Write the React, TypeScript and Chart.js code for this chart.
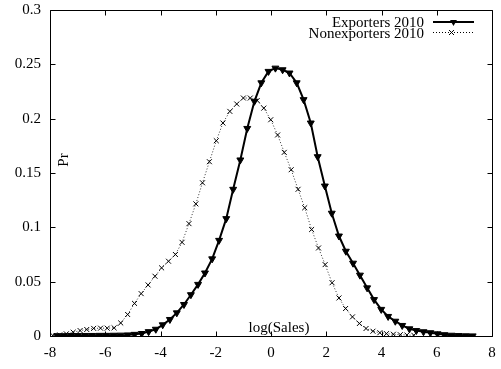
import React, { useEffect, useRef } from 'react';
import { Chart, registerables } from 'chart.js';

Chart.register(...registerables);

// ---------- data ----------
const exportersX = [
  -7.74, -7.49, -7.23, -6.98, -6.72, -6.47, -6.21, -5.96, -5.70, -5.45,
  -5.19, -4.94, -4.68, -4.43, -4.17, -3.92, -3.66, -3.41, -3.15, -2.90,
  -2.64, -2.39, -2.13, -1.88, -1.62, -1.37, -1.11, -0.86, -0.60, -0.35,
  -0.09, 0.16, 0.42, 0.67, 0.93, 1.18, 1.44, 1.69, 1.95, 2.20,
  2.46, 2.71, 2.97, 3.22, 3.48, 3.73, 3.99, 4.24, 4.50, 4.75,
  5.01, 5.26, 5.52, 5.77, 6.03, 6.28, 6.54, 6.79, 7.05, 7.30,
];
const exportersY = [
  0.0003, 0.0003, 0.0004, 0.0004, 0.0005, 0.0005, 0.0006, 0.0006, 0.0007, 0.0008,
  0.0010, 0.0015, 0.0023, 0.0040, 0.0062, 0.0103, 0.0152, 0.0213, 0.0290, 0.0380,
  0.0475, 0.0580, 0.0710, 0.0880, 0.1080, 0.1350, 0.1620, 0.1910, 0.2160, 0.2330,
  0.2435, 0.2465, 0.2450, 0.2420, 0.2330, 0.2175, 0.1960, 0.1650, 0.1380, 0.1130,
  0.0920, 0.0780, 0.0670, 0.0560, 0.0443, 0.0335, 0.0245, 0.0180, 0.0136, 0.0097,
  0.0066, 0.0050, 0.0039, 0.0030, 0.0020, 0.0012, 0.0007, 0.0004, 0.0002, 0.0001,
];
const nonexportersX = [
  -7.90, -7.65, -7.41, -7.16, -6.91, -6.67, -6.42, -6.17, -5.93, -5.68,
  -5.44, -5.19, -4.94, -4.70, -4.45, -4.20, -3.96, -3.71, -3.46, -3.22,
  -2.97, -2.72, -2.48, -2.23, -1.98, -1.74, -1.49, -1.24, -1.00, -0.75,
  -0.50, -0.26, -0.01, 0.24, 0.48, 0.73, 0.98, 1.22, 1.47, 1.72,
  1.96, 2.21, 2.46, 2.70, 2.95, 3.20, 3.44, 3.69, 3.94, 4.18,
  4.43, 4.68, 4.92, 5.17,
];
const nonexportersY = [
  0.0005, 0.0010, 0.0020, 0.0035, 0.0050, 0.0060, 0.0070, 0.0072, 0.0072, 0.0075,
  0.0120, 0.0198, 0.0300, 0.0390, 0.0470, 0.0550, 0.0627, 0.0688, 0.0750, 0.0862,
  0.1034, 0.1216, 0.1410, 0.1604, 0.1797, 0.1960, 0.2067, 0.2135, 0.2190, 0.2190,
  0.2167, 0.2097, 0.1990, 0.1850, 0.1690, 0.1530, 0.1350, 0.1180, 0.0980, 0.0810,
  0.0657, 0.0490, 0.0350, 0.0253, 0.0176, 0.0115, 0.0069, 0.0044, 0.0030, 0.0022,
  0.0016, 0.0012, 0.0009, 0.0007,
];
const xTicks = [-8, -6, -4, -2, 0, 2, 4, 6, 8];
const yTicks = [0, 0.05, 0.1, 0.15, 0.2, 0.25, 0.3];
const seriesLabels = ['Exporters 2010', 'Nonexporters 2010'];
const xLabel = 'log(Sales)';
const yLabel = 'Pr';

const FONT_FAMILY = '"Liberation Serif", "Times New Roman", serif';
const FONT_SIZE = 15;
const FONT = `${FONT_SIZE}px ${FONT_FAMILY}`;

// target plot frame (pixels)
const AREA = { left: 50, right: 492, top: 10, bottom: 336 };

const decorPlugin = {
  id: 'decor',
  afterDatasetsDraw(chart: any) {
    const { ctx, chartArea, scales } = chart;
    const xs = scales.x;
    const ys = scales.y;
    const L = Math.round(chartArea.left) + 0.5;
    const R = Math.round(chartArea.right) + 0.5;
    const T = Math.round(chartArea.top) + 0.5;
    const B = Math.round(chartArea.bottom) + 0.5;
    ctx.save();
    ctx.strokeStyle = '#000';
    ctx.lineWidth = 1;
    ctx.setLineDash([]);
    ctx.beginPath();
    ctx.rect(L, T, R - L, B - T);
    ctx.stroke();
    const tl = 5;
    ctx.beginPath();
    xTicks.forEach((v) => {
      const px = Math.round(xs.getPixelForValue(v)) + 0.5;
      ctx.moveTo(px, B);
      ctx.lineTo(px, B - tl);
      ctx.moveTo(px, T);
      ctx.lineTo(px, T + tl);
    });
    yTicks.forEach((v) => {
      const py = Math.round(ys.getPixelForValue(v)) + 0.5;
      ctx.moveTo(L, py);
      ctx.lineTo(L + tl, py);
      ctx.moveTo(R, py);
      ctx.lineTo(R - tl, py);
    });
    ctx.stroke();

    // axis labels drawn inside the plot like the reference
    ctx.fillStyle = '#000';
    ctx.font = FONT;
    ctx.textAlign = 'center';
    ctx.textBaseline = 'alphabetic';
    ctx.fillText(xLabel, 279, 332);
    ctx.save();
    ctx.translate(68, 160);
    ctx.rotate(-Math.PI / 2);
    ctx.fillText(yLabel, 0, 0);
    ctx.restore();

    // legend
    ctx.textAlign = 'right';
    ctx.fillText(seriesLabels[0], 424, 27);
    ctx.fillText(seriesLabels[1], 424, 38);

    // sample 1: solid thick line with down triangle
    ctx.lineWidth = 2;
    ctx.beginPath();
    ctx.moveTo(433, 22);
    ctx.lineTo(474, 22);
    ctx.stroke();
    const r = 4;
    ctx.beginPath();
    ctx.moveTo(453.5, 22 + r);
    ctx.lineTo(453.5 - r * 0.866, 22 - r * 0.5);
    ctx.lineTo(453.5 + r * 0.866, 22 - r * 0.5);
    ctx.closePath();
    ctx.fill();

    // sample 2: dotted line with x
    ctx.lineWidth = 1;
    ctx.setLineDash([1, 2]);
    ctx.beginPath();
    ctx.moveTo(433, 32.5);
    ctx.lineTo(474, 32.5);
    ctx.stroke();
    ctx.setLineDash([]);
    ctx.beginPath();
    ctx.moveTo(451.5 - 2.5, 32.5 - 2.5);
    ctx.lineTo(451.5 + 2.5, 32.5 + 2.5);
    ctx.moveTo(451.5 - 2.5, 32.5 + 2.5);
    ctx.lineTo(451.5 + 2.5, 32.5 - 2.5);
    ctx.stroke();
    ctx.restore();
  },
};

// force the plot area to the measured frame
const areaPlugin = {
  id: 'area',
  afterLayout(chart: any) {
    const ca = chart.chartArea;
    ca.left = AREA.left;
    ca.right = AREA.right;
    ca.top = AREA.top;
    ca.bottom = AREA.bottom;
    ca.width = AREA.right - AREA.left;
    ca.height = AREA.bottom - AREA.top;
    const xs = chart.scales.x;
    xs.left = AREA.left;
    xs.right = AREA.right;
    xs.width = AREA.right - AREA.left;
    xs.top = AREA.bottom;
    xs.bottom = xs.top + 33;
    xs.configure();
    const ys = chart.scales.y;
    ys.top = AREA.top;
    ys.bottom = AREA.bottom;
    ys.height = AREA.bottom - AREA.top;
    ys.right = AREA.left;
    ys.left = 0;
    ys.width = AREA.left;
    ys.configure();
  },
};

export default function App() {
  const canvasRef = useRef<HTMLCanvasElement | null>(null);

  useEffect(() => {
    if (!canvasRef.current) return;
    const exporters = exportersX.map((x, i) => ({ x, y: exportersY[i] }));
    const nonexporters = nonexportersX.map((x, i) => ({ x, y: nonexportersY[i] }));
    const chart = new Chart(canvasRef.current, {
      type: 'line',
      data: {
        datasets: [
          {
            label: seriesLabels[0],
            data: exporters,
            borderColor: '#000',
            backgroundColor: '#000',
            borderWidth: 2,
            pointStyle: 'triangle',
            rotation: 180,
            pointRadius: 4,
            pointBorderWidth: 1,
            pointBackgroundColor: '#000',
            pointBorderColor: '#000',
            tension: 0,
            fill: false,
          },
          {
            label: seriesLabels[1],
            data: nonexporters,
            borderColor: '#333',
            backgroundColor: '#000',
            borderWidth: 1,
            borderDash: [1, 2],
            pointStyle: 'crossRot',
            pointRadius: 3.5,
            pointBorderWidth: 1,
            pointBorderColor: '#000',
            tension: 0,
            fill: false,
          },
        ],
      },
      options: {
        animation: false,
        responsive: true,
        maintainAspectRatio: false,
        layout: { padding: { top: 10, right: 9, left: 0, bottom: 0 } },
        plugins: {
          legend: { display: false },
          tooltip: { enabled: false },
          title: { display: false },
        },
        scales: {
          x: {
            type: 'linear',
            min: -8,
            max: 8,
            grid: { display: false, drawTicks: false },
            border: { display: false },
            afterBuildTicks: (s: any) => {
              s.ticks = xTicks.map((v) => ({ value: v }));
            },
            afterFit: (s: any) => {
              s.height = 33;
            },
            ticks: {
              color: '#000',
              font: { family: FONT_FAMILY, size: FONT_SIZE },
              padding: 8,
              maxRotation: 0,
              autoSkip: false,
              callback: (v: any) => String(v),
            },
          },
          y: {
            type: 'linear',
            min: 0,
            max: 0.3,
            grid: { display: false, drawTicks: false },
            border: { display: false },
            afterBuildTicks: (s: any) => {
              s.ticks = yTicks.map((v) => ({ value: v }));
            },
            afterFit: (s: any) => {
              s.width = 50;
            },
            ticks: {
              color: '#000',
              font: { family: FONT_FAMILY, size: FONT_SIZE },
              padding: 9,
              autoSkip: false,
              callback: (v: any) => String(Math.round(v * 100) / 100),
            },
          },
        },
      },
      plugins: [areaPlugin, decorPlugin],
    });
    return () => chart.destroy();
  }, []);

  return (
    <div style={{ position: 'absolute', left: 0, top: 0, width: 501, height: 369, background: '#fff' }}>
      <canvas ref={canvasRef} />
    </div>
  );
}
